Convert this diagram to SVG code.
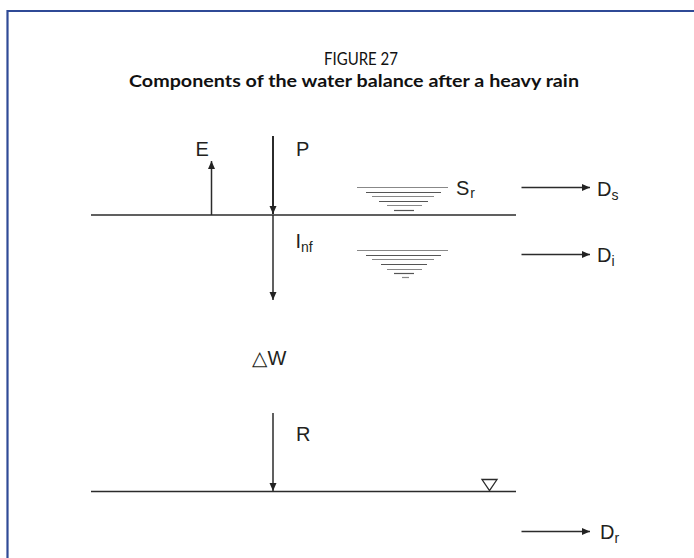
<svg xmlns="http://www.w3.org/2000/svg" width="694" height="558" viewBox="0 0 694 558">
<defs>
<marker id="ah" markerWidth="8" markerHeight="8" refX="8" refY="4" orient="auto" markerUnits="userSpaceOnUse">
<path d="M0,0.5 L8,4 L0,7.5 Z" fill="#222"/>
</marker>
<style>
.ln{stroke:#2b2b2b;stroke-width:1.5;fill:none}
.ar{stroke:#2b2b2b;stroke-width:1.5;fill:none;marker-end:url(#ah)}
.hz{stroke:#555;stroke-width:1.2}
.hl{stroke:#888;stroke-width:1.2}
.lb{font-family:"Liberation Sans",Arial,sans-serif;font-size:20px;fill:#231f20}
.sb{font-size:14px}
.tt{font-family:Lato,"Open Sans",sans-serif;fill:#111;text-anchor:middle}
</style>
</defs>
<rect width="694" height="558" fill="#fff"/>
<g id="frame">
<line x1="7.5" y1="11" x2="694" y2="11" stroke="#2f4a96" stroke-width="2"/>
<line x1="7.5" y1="10" x2="7.5" y2="558" stroke="#2f4a96" stroke-width="2.2"/>
</g>
<g id="title">
<text class="tt" x="361" y="65" font-size="16.5" textLength="74" lengthAdjust="spacingAndGlyphs">FIGURE 27</text>
<text class="tt" x="354" y="86.5" font-size="17.5" font-weight="bold" textLength="450" lengthAdjust="spacingAndGlyphs">Components of the water balance after a heavy rain</text>
</g>
<g id="surface">
<line class="ln" x1="91" y1="215" x2="516" y2="215"/>
</g>
<g id="groundwater">
<line class="ln" x1="91" y1="491.5" x2="516" y2="491.5"/>
<polygon points="482,479.5 497,479.5 489.5,490.5" fill="none" stroke="#2b2b2b" stroke-width="1.3"/>
</g>
<g id="connectors">
<line class="ar" x1="273" y1="136" x2="273" y2="214" style="stroke-width:2"/>
<line class="ar" x1="211.5" y1="215" x2="211.5" y2="161"/>
<line class="ar" x1="273" y1="215" x2="273" y2="300"/>
<line class="ar" x1="273" y1="413" x2="273" y2="491"/>
<line class="ar" x1="521.5" y1="187.5" x2="590" y2="187.5"/>
<line class="ar" x1="521.5" y1="254.5" x2="590" y2="254.5"/>
<line class="ar" x1="521.5" y1="531.5" x2="590" y2="531.5"/>
</g>
<g id="surface-storage">
<line class="hl" x1="357" y1="187.5" x2="448" y2="187.5"/>
<line class="hz" x1="366" y1="192.5" x2="441" y2="192.5"/>
<line class="hl" x1="372" y1="196.5" x2="434" y2="196.5"/>
<line class="hz" x1="379" y1="201.5" x2="428" y2="201.5"/>
<line class="hl" x1="387" y1="205.5" x2="422" y2="205.5"/>
<line class="hz" x1="394" y1="210.5" x2="414" y2="210.5"/>
</g>
<g id="soil-storage">
<line class="hl" x1="357" y1="250.5" x2="448" y2="250.5"/>
<line class="hz" x1="366" y1="255.5" x2="441" y2="255.5"/>
<line class="hl" x1="372" y1="259.5" x2="434" y2="259.5"/>
<line class="hz" x1="381" y1="264.5" x2="427" y2="264.5"/>
<line class="hl" x1="387" y1="269.5" x2="422" y2="269.5"/>
<line class="hz" x1="394" y1="273.5" x2="414" y2="273.5"/>
<line class="hl" x1="402" y1="277.5" x2="409" y2="277.5"/>
</g>
<g id="labels">
<text class="lb" x="195.5" y="156">E</text>
<text class="lb" x="296" y="156">P</text>
<text class="lb" x="456" y="195" font-size="21">S<tspan class="sb" dx="1" dy="3">r</tspan></text>
<text class="lb" x="597" y="196" font-size="21">D<tspan class="sb" dy="4">s</tspan></text>
<text class="lb" x="295.5" y="248">I<tspan class="sb" dy="4">nf</tspan></text>
<text class="lb" x="597" y="262" font-size="21">D<tspan class="sb" dy="4">i</tspan></text>
<text class="lb" x="252" y="365"><tspan font-family="DejaVu Sans,sans-serif" font-size="20">△</tspan>W</text>
<text class="lb" x="296" y="441">R</text>
<text class="lb" x="600" y="539" font-size="21">D<tspan class="sb" dy="4">r</tspan></text>
</g>
</svg>
